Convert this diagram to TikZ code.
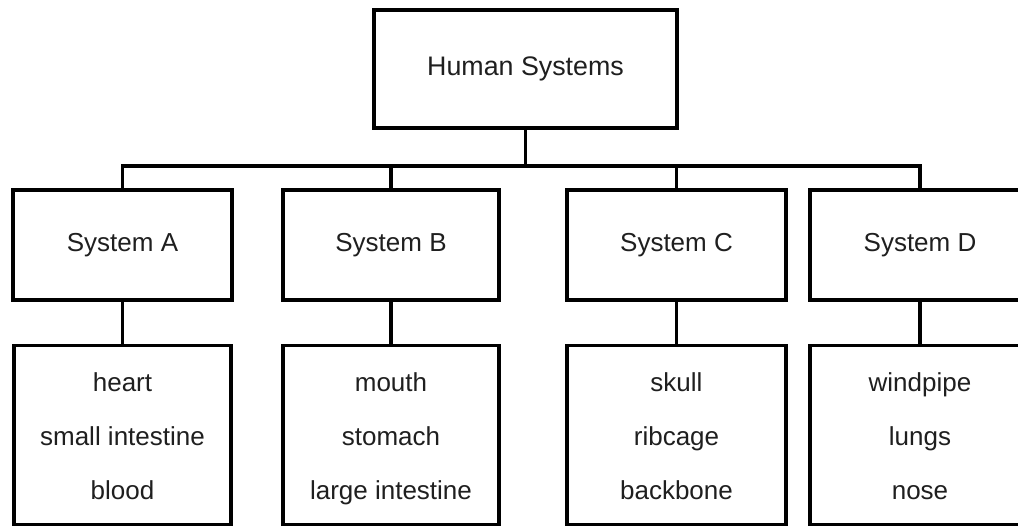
\documentclass[tikz,border=0pt]{standalone}
\usepackage{fontspec}
\setmainfont{Liberation Sans}
\begin{document}
\begin{tikzpicture}[x=1pt,y=-1pt,
  box/.style={draw=black,line width=3.2pt,rectangle,inner sep=0pt,
    font=\fontsize{26}{54}\selectfont,text=black!88,align=center},
  link/.style={draw=black,line width=3.2pt}]
\clip (0,0) rectangle (1018,526);
\fill[white] (0,0) rectangle (1018,526);
\node[box,minimum width=303pt,minimum height=118pt,font=\fontsize{26.8}{54}\selectfont] (top) at (525.5,69) {Human Systems};
\node[box,minimum width=219pt,minimum height=110pt] (sa) at (122.5,245) {System A};
\node[box,minimum width=216pt,minimum height=110pt] (sb) at (391,245) {System B};
\node[box,minimum width=219pt,minimum height=110pt] (sc) at (676.5,245) {System C};
\node[box,minimum width=220pt,minimum height=110pt] (sd) at (920,245) {System D};
\node[box,minimum width=217pt,minimum height=179pt] (la) at (122.5,435) {\strut heart\\small intestine\\blood\strut};
\node[box,minimum width=216pt,minimum height=179pt] (lb) at (391,435) {\strut mouth\\stomach\\large intestine\strut};
\node[box,minimum width=219pt,minimum height=179pt] (lc) at (676.5,435) {\strut skull\\ribcage\\backbone\strut};
\node[box,minimum width=220pt,minimum height=179pt] (ld) at (920,435) {\strut windpipe\\lungs\\nose\strut};
\coordinate (bus) at (0,166);
\draw[link,line join=miter] (sa.north) -- (sa.north |- bus) -- (sd.north |- bus) -- (sd.north);
\draw[link] (top.south) -- (top.south |- bus);
\draw[link] (sb.north) -- (sb.north |- bus);
\draw[link] (sc.north) -- (sc.north |- bus);
\draw[link] (sa.south) -- (la.north);
\draw[link] (sb.south) -- (lb.north);
\draw[link] (sc.south) -- (lc.north);
\draw[link] (sd.south) -- (ld.north);
\end{tikzpicture}
\end{document}
